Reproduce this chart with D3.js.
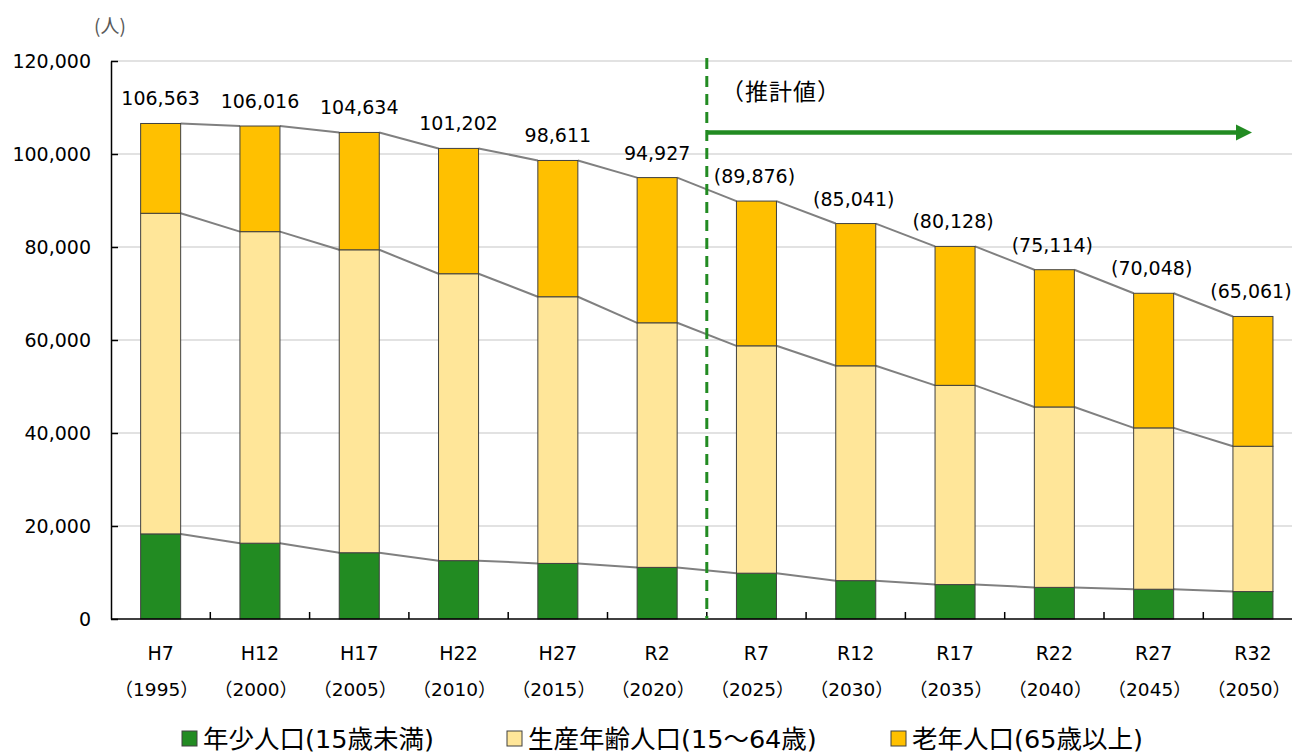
<!DOCTYPE html>
<html><head><meta charset="utf-8">
<script src="https://cdn.jsdelivr.net/npm/d3@7"></script>
<style>
html,body{margin:0;padding:0;background:#fff;}
svg text{font-family:"DejaVu Sans","Noto Sans CJK JP",sans-serif;}
</style></head>
<body><svg id="c" width="1292" height="753"></svg>
<script>
const categories = ["H7","H12","H17","H22","H27","R2","R7","R12","R17","R22","R27","R32"];
const years = ["1995","2000","2005","2010","2015","2020","2025","2030","2035","2040","2045","2050"];
const projected = [false,false,false,false,false,false,true,true,true,true,true,true];
const young = [18300,16300,14250,12550,11950,11100,9850,8250,7400,6800,6400,5900];
const working = [68950,67000,65150,61700,57350,52600,48900,46200,42850,38800,34700,31250];
const elderly = [19313,22716,25234,26952,29311,31227,31126,30591,29878,29514,28948,27911];
const yTicks = [0,20000,40000,60000,80000,100000,120000];
const seriesNames = ["年少人口(15歳未満)","生産年齢人口(15～64歳)","老年人口(65歳以上)"];
const seriesColors = ["#228B22","#FFE699","#FFC000"];
const unitLabel = "(人)";
const projLabel = "（推計値）";

(function(){
const svg = d3.select("#c");
const left = 111, step = 99.3, plotTop = 61, plotBottom = 619;
const x = d3.scaleBand().domain(categories).range([left, left + step*categories.length]).padding(0);
const y = d3.scaleLinear().domain([0,120000]).range([plotBottom, plotTop]);
const barW = x.bandwidth()*0.403;
const bx = c => x(c) + (x.bandwidth()-barW)/2;

const rows = categories.map((c,i)=>({cat:c, young:young[i], working:working[i], elderly:elderly[i]}));
const keys = ["young","working","elderly"];
const stacked = d3.stack().keys(keys)(rows);

// gridlines
svg.append("g").selectAll("line").data(yTicks.filter(t=>t>0)).join("line")
  .attr("x1",left).attr("x2",1292).attr("y1",d=>y(d)).attr("y2",d=>y(d))
  .attr("stroke","#d9d9d9").attr("stroke-width",1.5);

// connector lines
const lineGen = d3.line();
stacked.forEach(s=>{
  for(let i=0;i<s.length-1;i++){
    svg.append("path")
      .attr("d", lineGen([[bx(categories[i])+barW, y(s[i][1])],[bx(categories[i+1]), y(s[i+1][1])]]))
      .attr("stroke","#808080").attr("stroke-width",2).attr("fill","none");
  }
});

// bars
stacked.forEach((s,k)=>{
  svg.append("g").selectAll("rect").data(s).join("rect")
    .attr("x",d=>bx(d.data.cat)).attr("width",barW)
    .attr("y",d=>y(d[1])).attr("height",d=>y(d[0])-y(d[1]))
    .attr("fill",seriesColors[k]).attr("stroke","#404040").attr("stroke-width",1);
});

// y axis
const yAxis = d3.axisLeft(y).tickValues(yTicks).tickFormat(d3.format(",")).tickSizeInner(-7).tickSizeOuter(0).tickPadding(20);
const ya = svg.append("g").attr("transform",`translate(${left},0)`).call(yAxis);
ya.select(".domain").attr("stroke","#000").attr("stroke-width",1.5);
ya.selectAll(".tick line").attr("stroke","#000").attr("stroke-width",1.5);
ya.selectAll("text").attr("font-size",19).attr("fill","#000").attr("dy","0.35em");

// x axis line and boundary ticks
svg.append("line").attr("x1",left).attr("x2",1292).attr("y1",plotBottom).attr("y2",plotBottom).attr("stroke","#000").attr("stroke-width",1.5);
svg.append("g").selectAll("line").data(categories.slice(1)).join("line")
  .attr("x1",d=>x(d)).attr("x2",d=>x(d)).attr("y1",plotBottom).attr("y2",plotBottom-7)
  .attr("stroke","#000").attr("stroke-width",1.5);

// x labels
const xl = svg.append("g").attr("fill","#000").attr("text-anchor","middle");
categories.forEach((c,i)=>{
  const cx = x(c)+x.bandwidth()/2;
  xl.append("text").attr("x",cx).attr("y",660).attr("font-size",19).text(c);
  xl.append("text").attr("x",cx-4).attr("y",696).attr("font-size",18.5).text("（"+years[i]+"）");
});

// total labels
const fmt = d3.format(",");
svg.append("g").selectAll("text").data(rows).join("text")
  .attr("x",(d,i)=>x(d.cat)+x.bandwidth()/2 - (projected[i]?2:0))
  .attr("y",d=>y(d.young+d.working+d.elderly)-18)
  .attr("text-anchor","middle").attr("font-size",19).attr("fill","#000")
  .text((d,i)=>{const t=fmt(d.young+d.working+d.elderly); return projected[i]?"("+t+")":t;});

// projection divider
const divX = x(categories[projected.indexOf(true)]);
svg.append("line").attr("x1",divX).attr("x2",divX).attr("y1",58).attr("y2",plotBottom)
  .attr("stroke","#228B22").attr("stroke-width",3).attr("stroke-dasharray","11,7");
svg.append("line").attr("x1",divX).attr("x2",1238).attr("y1",132.5).attr("y2",132.5)
  .attr("stroke","#228B22").attr("stroke-width",4.5);
svg.append("path").attr("d",`M1236,124.5 L1252,132.5 L1236,140.5 Z`).attr("fill","#228B22");
svg.append("text").attr("x",721).attr("y",100).attr("font-size",23).attr("letter-spacing",1)
  .attr("fill","#000").text(projLabel);

// unit label
svg.append("text").attr("x",94).attr("y",33).attr("font-size",19).attr("fill","#595959")
  .style("font-family","'Noto Sans CJK JP'").text(unitLabel);

// legend
const legX = [182,507,891];
const lg = svg.append("g");
seriesNames.forEach((n,k)=>{
  lg.append("rect").attr("x",legX[k]).attr("y",731).attr("width",15).attr("height",15)
    .attr("fill",seriesColors[k]).attr("stroke","#404040").attr("stroke-width",1);
  lg.append("text").attr("x",legX[k]+21).attr("y",748).attr("font-size",25.5).attr("fill","#000").text(n);
});
})();
</script></body></html>
